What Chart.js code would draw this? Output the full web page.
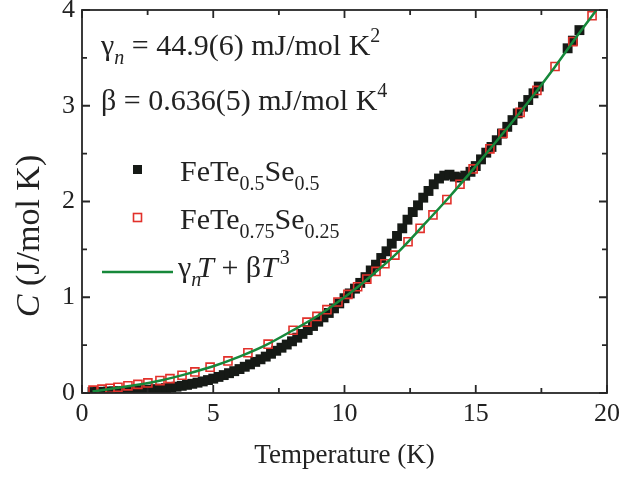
<!DOCTYPE html>
<html lang="en">
<head>
<meta charset="UTF-8">
<title>Specific heat of FeTe(1-x)Se(x)</title>
<script src="https://cdn.jsdelivr.net/npm/chart.js"></script>
<style>
  html, body { margin: 0; padding: 0; background: #fff; }
  #wrap { width: 619px; height: 477px; }
</style>
</head>
<body>
<div id="wrap"><canvas id="heatChart" width="619" height="477"></canvas></div>
<script>
// FeTe0.5Se0.5, filled squares
const tempA = [0.4,0.6,0.8,1.0,1.2,1.4,1.6,1.8,2.0,
  2.2,2.4,2.6,2.8,3.0,3.2,3.4,3.6,3.8,4.0,
  4.2,4.4,4.6,4.8,5.0,5.2,5.4,5.6,5.8,6.0,
  6.2,6.4,6.6,6.8,7.0,7.2,7.4,7.6,7.8,8.0,
  8.2,8.4,8.6,8.8,9.0,9.2,9.4,9.6,9.8,10.0,
  10.2,10.4,10.6,10.8,11.0,11.2,11.4,11.6,11.8,12.0,
  12.2,12.4,12.6,12.8,13.0,13.2,13.4,13.6,13.8,14.0,
  14.2,14.4,14.6,14.8,15.0,15.2,15.4,15.6,15.8,16.0,
  16.2,16.4,16.6,16.8,17.0,17.2,17.4,
  18.5,18.7,18.95];
const heatA = [0.010,0.011,0.013,0.015,0.017,0.018,0.020,0.023,0.025,
  0.028,0.031,0.035,0.040,0.045,0.051,0.058,0.066,0.075,0.085,
  0.096,0.108,0.121,0.135,0.150,0.168,0.187,0.207,0.228,0.250,
  0.274,0.299,0.325,0.352,0.380,0.410,0.441,0.473,0.506,0.540,
  0.578,0.617,0.657,0.700,0.745,0.790,0.836,0.884,0.936,0.990,
  1.04,1.09,1.15,1.21,1.28,1.34,1.41,1.48,1.56,1.64,
  1.72,1.81,1.89,1.96,2.04,2.11,2.18,2.24,2.27,2.28,
  2.26,2.25,2.27,2.31,2.37,2.44,2.51,2.57,2.64,2.71,
  2.78,2.85,2.92,2.99,3.06,3.13,3.20,
  3.60,3.68,3.79];

// FeTe0.75Se0.25, open squares
const tempB = [0.42,0.76,1.07,1.37,1.75,2.13,2.51,2.97,3.35,3.81,4.30,4.88,
  5.56,6.32,7.09,8.04,8.57,8.95,9.33,9.75,10.13,10.5,10.85,11.2,11.54,11.92,
  12.42,12.88,13.37,13.9,14.4,14.9,15.54,16.04,16.69,17.33,18.02,18.7,19.43];
const heatB = [0.03,0.04,0.05,0.06,0.075,0.09,0.105,0.13,0.15,0.185,0.22,0.27,
  0.335,0.42,0.51,0.655,0.74,0.80,0.87,0.95,1.03,1.11,1.19,1.27,1.35,1.44,
  1.58,1.72,1.86,2.02,2.18,2.34,2.55,2.71,2.93,3.16,3.41,3.67,3.94];

// gamma_n T + beta T^3 curve
const tempFit = [0.4,1,2,3,4,5,6,7,8,9,10,11,12,13,14,15,16,17,18,19,19.6];
const heatFit = [0.015,0.04,0.08,0.13,0.2,0.28,0.38,0.5,0.65,0.81,1.0,1.22,1.46,
  1.75,2.05,2.37,2.70,3.04,3.40,3.78,4.0];

const xTicks = [0, 5, 10, 15, 20];
const yTicks = [0, 1, 2, 3, 4];

const BLACK = '#161a16';
const RED = '#e2302a';
const GREEN = '#16883a';
const INK = '#222';
const serif = '"Liberation Serif", "Times New Roman", serif';

function fontOf(size, italic) {
  return (italic ? 'italic ' : '') + size + 'px ' + serif;
}

function runsWidth(ctx, runs) {
  let w = 0;
  for (const r of runs) {
    ctx.font = fontOf(r.size, r.italic);
    w += ctx.measureText(r.text).width + (r.gap || 0);
  }
  return w;
}

// text with sub/superscript pieces, left aligned at x on baseline y
function drawRuns(ctx, x, y, runs) {
  let cx = x;
  ctx.textAlign = 'left';
  for (const r of runs) {
    cx += (r.gap || 0);
    ctx.font = fontOf(r.size, r.italic);
    ctx.fillText(r.text, cx, y + (r.dy || 0));
    cx += ctx.measureText(r.text).width;
  }
}

function pairs(xs, ys) {
  return xs.map((x, i) => ({ x: x, y: ys[i] }));
}

function midpoints(arr) {
  const out = [];
  for (let i = 0; i < arr.length - 1; i++) out.push((arr[i] + arr[i + 1]) / 2);
  return out;
}

const BIG = 30, SMALL = 20;

const frameAndText = {
  id: 'frameAndText',
  afterDatasetsDraw(chart) {
    const ctx = chart.ctx;
    const { left, right, top, bottom } = chart.chartArea;
    const xs = chart.scales.x, ys = chart.scales.y;
    ctx.save();

    // box
    ctx.strokeStyle = '#262626';
    ctx.lineWidth = 1.8;
    ctx.strokeRect(left, top, right - left, bottom - top);

    // inward ticks on all four sides
    const tickX = (vals, len) => {
      ctx.beginPath();
      for (const v of vals) {
        const px = xs.getPixelForValue(v);
        ctx.moveTo(px, bottom); ctx.lineTo(px, bottom - len);
        ctx.moveTo(px, top); ctx.lineTo(px, top + len);
      }
      ctx.stroke();
    };
    const tickY = (vals, len) => {
      ctx.beginPath();
      for (const v of vals) {
        const py = ys.getPixelForValue(v);
        ctx.moveTo(left, py); ctx.lineTo(left + len, py);
        ctx.moveTo(right, py); ctx.lineTo(right - len, py);
      }
      ctx.stroke();
    };
    tickX(xTicks, 8); tickX(midpoints(xTicks), 5);
    tickY(yTicks, 8); tickY(midpoints(yTicks), 5);

    // tick labels
    ctx.fillStyle = INK;
    ctx.font = fontOf(26);
    ctx.textBaseline = 'middle';
    ctx.textAlign = 'center';
    for (const v of xTicks) ctx.fillText(String(v), xs.getPixelForValue(v), bottom + 21);
    ctx.textAlign = 'right';
    for (const v of yTicks) ctx.fillText(String(v), left - 7, ys.getPixelForValue(v));

    // axis titles
    ctx.textAlign = 'center';
    ctx.font = fontOf(27);
    ctx.fillText('Temperature (K)', (left + right) / 2, 456);

    ctx.save();
    ctx.translate(30, 236);
    ctx.rotate(-Math.PI / 2);
    ctx.textBaseline = 'middle';
    const yTitle = [
      { text: 'C', size: 34, italic: true },
      { text: ' (J/mol K)', size: 34 }
    ];
    drawRuns(ctx, -runsWidth(ctx, yTitle) / 2, 0, yTitle);
    ctx.restore();

    // fit parameters
    ctx.textBaseline = 'alphabetic';
    drawRuns(ctx, 101, 55, [
      { text: 'γ', size: BIG },
      { text: 'n', size: SMALL, italic: true, dy: 9 },
      { text: ' = 44.9(6) mJ/mol K', size: BIG },
      { text: '2', size: SMALL, dy: -13 }
    ]);
    drawRuns(ctx, 101, 110, [
      { text: 'β = 0.636(5) mJ/mol K', size: BIG },
      { text: '4', size: SMALL, dy: -13 }
    ]);

    // legend
    ctx.fillStyle = BLACK;
    ctx.fillRect(133, 165, 9, 9);
    ctx.strokeStyle = RED;
    ctx.lineWidth = 1.6;
    ctx.strokeRect(133.5, 213.5, 8, 8);
    ctx.strokeStyle = GREEN;
    ctx.lineWidth = 2.5;
    ctx.beginPath();
    ctx.moveTo(102, 272); ctx.lineTo(173, 272);
    ctx.stroke();

    ctx.fillStyle = INK;
    drawRuns(ctx, 180, 181, [
      { text: 'FeTe', size: BIG },
      { text: '0.5', size: SMALL, dy: 9 },
      { text: 'Se', size: BIG },
      { text: '0.5', size: SMALL, dy: 9 }
    ]);
    drawRuns(ctx, 180, 229, [
      { text: 'FeTe', size: BIG },
      { text: '0.75', size: SMALL, dy: 9 },
      { text: 'Se', size: BIG },
      { text: '0.25', size: SMALL, dy: 9 }
    ]);
    drawRuns(ctx, 178, 277, [
      { text: 'γ', size: BIG },
      { text: 'n', size: SMALL, italic: true, dy: 9 },
      { text: 'T', size: BIG, italic: true, gap: -4 },
      { text: ' + β', size: BIG },
      { text: 'T', size: BIG, italic: true },
      { text: '3', size: SMALL, dy: -13, gap: 2 }
    ]);

    ctx.restore();
  }
};

new Chart(document.getElementById('heatChart'), {
  type: 'scatter',
  data: {
    datasets: [
      {
        label: 'fit',
        data: pairs(tempFit, heatFit),
        showLine: true,
        borderColor: GREEN,
        borderWidth: 2.5,
        pointRadius: 0,
        cubicInterpolationMode: 'monotone',
        order: 0
      },
      {
        label: 'FeTe0.75Se0.25',
        data: pairs(tempB, heatB),
        pointStyle: 'rect',
        pointRadius: 5.7,
        pointBorderColor: RED,
        pointBackgroundColor: 'rgba(0,0,0,0)',
        pointBorderWidth: 1.6,
        order: 1
      },
      {
        label: 'FeTe0.5Se0.5',
        data: pairs(tempA, heatA),
        pointStyle: 'rect',
        pointRadius: 7,
        pointBorderWidth: 0,
        pointBackgroundColor: BLACK,
        order: 2
      }
    ]
  },
  options: {
    responsive: false,
    animation: false,
    devicePixelRatio: 1,
    layout: { padding: { left: 0, right: 12, top: 10, bottom: 0 } },
    plugins: { legend: { display: false }, tooltip: { enabled: false } },
    scales: {
      x: {
        type: 'linear', min: 0, max: 20,
        grid: { display: false }, border: { display: false },
        ticks: { display: false },
        afterFit: s => { s.height = 84; }
      },
      y: {
        type: 'linear', min: 0, max: 4,
        grid: { display: false }, border: { display: false },
        ticks: { display: false },
        afterFit: s => { s.width = 82; }
      }
    }
  },
  plugins: [frameAndText]
});
</script>
</body>
</html>
